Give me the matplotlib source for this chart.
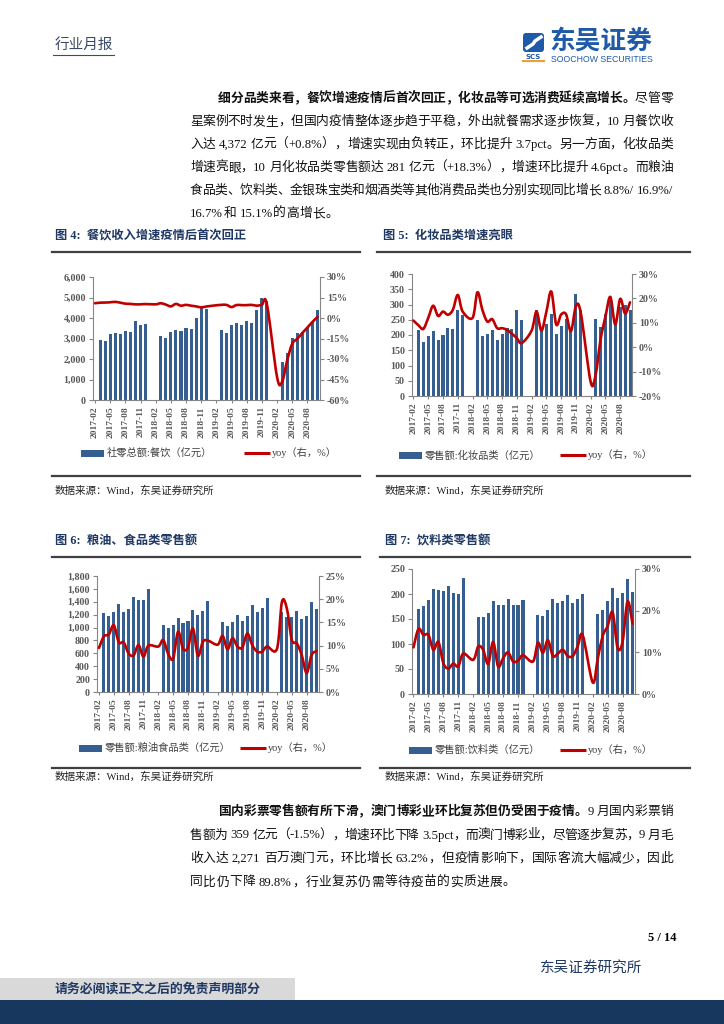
import matplotlib.pyplot as plt
import numpy as np
import pandas as pd
from matplotlib.patches import Rectangle, FancyBboxPatch, PathPatch
from matplotlib.path import Path

plt.rcParams['font.family'] = ['Liberation Serif', 'Noto Sans CJK SC']

# x axis: one slot per month, 2017-02 .. 2020-10 (Jan / Feb retail values not published)
months = pd.period_range('2017-02', '2020-10', freq='M').strftime('%Y-%m').tolist()
tick_idx = list(range(0, len(months), 3))
N = None

# 图4 餐饮 (亿元) and yoy (%)
food_bars = [N, 2950, 2900, 3220, 3260, 3230, 3370, 3340, 3860, 3680, 3700,
             N, N, 3100, 3040, 3330, 3400, 3360, 3510, 3460, 4020, 4560, 4430,
             N, N, 3400, 3290, 3640, 3740, 3660, 3870, 3780, 4390, 4960, 4830,
             N, N, 1840, 2310, 3030, 3270, 3300, 3510, 3800, 4372]
food_yoy = [10.8, 11.2, 11.3, 11.5, 11.8, 11.2, 10.5, 10.3, 10.0, 10.0, 10.2,
            N, 10.0, 10.8, 9.8, 8.5, 10.3, 9.0, 9.6, 9.0, 8.5, 7.8, 8.4,
            N, 9.3, 9.6, 9.6, 8.0, 9.5, 9.4, 9.4, 9.6, 9.0, 9.6, 10.0,
            N, -43.1, -46.8, -31.1, -18.9, -15.2, -11.0, -7.0, -2.9, 0.8]

# 图5 化妆品类
cos_bars = [N, 215, 178, 197, 214, 184, 200, 222, 220, 282, 266,
            N, N, 250, 196, 202, 218, 185, 204, 222, 219, 281, 249,
            N, N, 283, 224, 235, 268, 203, 231, 252, 218, 333, 282,
            N, N, 252, 226, 270, 310, 242, 293, 299, 281]
cos_yoy = [10.9, 9.0, 7.5, 12.0, 17.0, 12.8, 14.6, 13.3, 15.3, 21.4, 14.6,
           N, 12.0, 22.5, 15.3, 10.5, 11.5, 7.8, 7.8, 7.1, 5.5, 3.7, 1.7,
           N, 6.8, 14.6, 6.8, 14.5, 22.8, 9.3, 13.4, 13.5, 6.6, 16.8, 14.0,
           N, -14.2, -11.4, 3.0, 12.5, 20.6, 9.3, 19.8, 13.8, 18.4]

# 图6 粮油、食品类
grain_bars = [N, 1219, 1178, 1245, 1358, 1245, 1281, 1476, 1435, 1425, 1605,
              N, N, 1034, 993, 1039, 1152, 1065, 1101, 1270, 1193, 1255, 1409,
              N, N, 1080, 1024, 1090, 1193, 1106, 1178, 1348, 1235, 1307, 1466,
              N, N, 1240, 1160, 1160, 1250, 1130, 1180, 1400, 1290]
grain_yoy = [9.5, 12.0, 12.4, 14.4, 10.7, 10.7, 8.3, 7.9, 10.1, 7.6, 10.0,
             N, 9.8, 11.2, 8.2, 7.2, 13.0, 9.3, 9.6, 13.7, 7.8, 10.8, 11.1,
             N, 10.2, 12.1, 9.2, 11.6, 9.8, 9.6, 12.6, 10.1, 8.7, 8.7, 9.8,
             N, 9.3, 19.4, 18.0, 11.2, 10.5, 8.0, 4.1, 8.0, 8.8]

# 图7 饮料类
drink_bars = [N, 171, 176, 189, 211, 208, 206, 217, 203, 201, 233,
              N, N, 154, 154, 163, 187, 179, 178, 191, 178, 178, 188,
              N, N, 159, 156, 169, 190, 182, 186, 199, 182, 190, 200,
              N, N, 160, 168, 186, 212, 192, 202, 230, 204]
drink_yoy = [11.2, 15.6, 14.2, 14.2, 10.6, 12.5, 7.4, 6.1, 7.3, 6.6, 9.7,
             N, 8.2, 11.4, 10.6, 7.2, 12.5, 6.6, 8.6, 10.0, 7.8, 8.0, 9.3,
             N, 7.8, 12.3, 9.9, 12.9, 9.1, 9.7, 10.6, 9.1, 9.1, 11.5, 14.1,
             N, 2.8, 8.4, 13.9, 16.3, 19.6, 11.1, 12.5, 22.2, 16.9]

para1 = [
    [("细分品类来看，餐饮增速疫情后首次回正，化妆品等可选消费延续高增长。", True), ("尽管零", False)],
    [("星案例不时发生，但国内疫情整体逐步趋于平稳，外出就餐需求逐步恢复，10 月餐饮收", False)],
    [("入达 4,372 亿元（+0.8%），增速实现由负转正，环比提升 3.7pct。另一方面，化妆品类", False)],
    [("增速亮眼，10 月化妆品类零售额达 281 亿元（+18.3%），增速环比提升 4.6pct。而粮油", False)],
    [("食品类、饮料类、金银珠宝类和烟酒类等其他消费品类也分别实现同比增长 8.8%/ 16.9%/", False)],
    [("16.7%和 15.1%的高增长。", False)],
]
para2 = [
    [("国内彩票零售额有所下滑，澳门博彩业环比复苏但仍受困于疫情。", True), ("9 月国内彩票销", False)],
    [("售额为 359 亿元（-1.5%），增速环比下降 3.5pct，而澳门博彩业，尽管逐步复苏，9 月毛", False)],
    [("收入达 2,271 百万澳门元，环比增长 63.2%，但疫情影响下，国际客流大幅减少，因此", False)],
    [("同比仍下降 89.8%，行业复苏仍需等待疫苗的实质进展。", False)],
]

BAR = '#365F91'
RED = '#C00000'
GRAY = '#595959'
NAVY = '#1F3864'
W, H = 724, 1024

fig = plt.figure(figsize=(W / 100, H / 100), dpi=100)
page = fig.add_axes([0, 0, 1, 1], zorder=0)
page.set_xlim(0, W)
page.set_ylim(H, 0)
page.axis('off')
renderer = fig.canvas.get_renderer()


def arr(lst):
    return np.array([np.nan if v is None else v for v in lst], dtype=float)


def tokens(s):
    # split into CJK chars and ascii words; remember where a space stood
    out, buf, sp = [], '', False
    for ch in s:
        if ord(ch) < 128 and ch != ' ':
            buf += ch
            continue
        if buf:
            out.append((buf, sp))
            buf, sp = '', False
        if ch == ' ':
            sp = True
        else:
            out.append((ch, sp))
            sp = False
    if buf:
        out.append((buf, sp))
    return out


def text_line(segs, x0, x1, y, size=9.2, justify=True):
    toks = []
    for s, bold in segs:
        for tk, sp in tokens(s):
            t = page.text(0, y, tk, fontsize=size, va='center', ha='left',
                          fontweight='bold' if bold else 'normal', color='#111111')
            toks.append((t, t.get_window_extent(renderer).width, 3.2 if sp else 0))
    total = sum(w + s for _, w, s in toks)
    gap = (x1 - x0 - total) / (len(toks) - 1) if justify else 0.4
    x = x0
    for t, w, s in toks:
        x += s
        t.set_x(x)
        x += w + gap


def paragraph(lines, y0, dy):
    for i, segs in enumerate(lines):
        x0 = 218 if i == 0 else 190
        text_line(segs, x0, 673, y0 + i * dy, justify=(i < len(lines) - 1))


def smooth_path(x, y):
    # cubic Bezier through the points (Catmull-Rom tangents), like a smoothed Excel line
    p = np.column_stack([x, y])
    ext = np.vstack([p[0], p, p[-1]])
    verts, codes = [p[0]], [Path.MOVETO]
    for i in range(len(p) - 1):
        a, b, c, d = ext[i], ext[i + 1], ext[i + 2], ext[i + 3]
        verts += [b + (c - a) / 6, c - (d - b) / 6, c]
        codes += [Path.CURVE4] * 3
    return Path(verts, codes)


def draw_chart(box, bars, yoy, lmax, lstep, rmin, rmax, rstep, lfmt, xlim):
    l, t, r, b = box
    ax = fig.add_axes([l / W, 1 - b / H, (r - l) / W, (b - t) / H], zorder=2)
    ax.patch.set_visible(False)
    idx = np.arange(len(months))
    bv, yv = arr(bars), arr(yoy)
    m = ~np.isnan(bv)
    ax.bar(idx[m], bv[m], width=0.62, color=BAR, linewidth=0)
    ax.set_xlim(*xlim)
    ax.set_ylim(0, lmax)
    lt = np.arange(0, lmax + lstep / 2, lstep)
    ax.set_yticks(lt)
    ax.set_yticklabels([lfmt(v) for v in lt])
    ax.set_xticks(tick_idx)
    ax.set_xticklabels([months[i] for i in tick_idx], rotation=90, fontsize=6.8)
    ax2 = ax.twinx()
    m2 = ~np.isnan(yv)
    ax2.add_patch(PathPatch(smooth_path(idx[m2], yv[m2]), fill=False, edgecolor=RED,
                            lw=1.9, joinstyle='round', capstyle='round'))
    ax2.set_ylim(rmin, rmax)
    rt = np.arange(rmin, rmax + rstep / 2, rstep)
    ax2.set_yticks(rt)
    ax2.set_yticklabels([f'{v:.0f}%' for v in rt])
    for a in (ax, ax2):
        for s in a.spines.values():
            s.set_visible(False)
            s.set_color('#868686')
        a.tick_params(colors='#868686', labelcolor=GRAY, labelsize=7.2, length=3, width=0.8, pad=2)
    ax.tick_params(axis='x', labelsize=6.8, length=2.5)
    ax.spines['left'].set_visible(True)
    ax.spines['bottom'].set_visible(True)
    ax2.spines['right'].set_visible(True)
    for lab in ax.get_yticklabels() + ax2.get_yticklabels() + ax.get_xticklabels():
        lab.set_fontweight('bold')


def legend(y, px, label, lx):
    page.add_patch(Rectangle((px, y - 3.5), 23, 7, color=BAR, lw=0))
    page.text(px + 26, y, label, fontsize=7.4, va='center', color='#404040')
    page.plot([lx, lx + 26], [y, y], color=RED, lw=2.2, solid_capstyle='butt')
    page.text(lx + 28, y, 'yoy（右，%）', fontsize=7.4, va='center', color='#404040')


def caption(x, y, s, lx0, lx1):
    page.text(x, y, s, fontsize=8.8, fontweight='bold', color=NAVY, va='center')
    page.plot([lx0, lx1], [y + 16, y + 16], color='#404040', lw=1.6)


# header
page.text(55, 45, '行业月报', fontsize=10.5, color='#3C4A68', va='center')
page.plot([53, 114], [55, 55], color='#3C4A68', lw=0.8)
page.add_patch(FancyBboxPatch((523, 33), 21, 19, boxstyle='round,pad=0,rounding_size=3',
                              color='#1E5AA8', lw=0))
page.plot([527, 533, 535, 541], [48, 44, 41, 37], color='white', lw=2.5)
page.text(533.5, 57, 'SCS', fontsize=5, fontweight='bold', color='#1E5AA8', ha='center',
          va='center', family='DejaVu Sans')
page.plot([523, 544], [61, 61], color='#F0A030', lw=1.5)
page.text(549, 41, '东吴证券', fontsize=18.5, fontweight='bold', color='#1E5AA8', va='center')
page.text(551, 59.5, 'SOOCHOW SECURITIES', fontsize=6.3, color='#1E5AA8', va='center',
          family='Liberation Sans')

paragraph(para1, 99, 23)

caption(55, 236, '图 4:  餐饮收入增速疫情后首次回正', 52, 360)
caption(383, 236, '图 5:  化妆品类增速亮眼', 377, 690)

draw_chart((93, 277, 320, 400), food_bars, food_yoy, 6000, 1000, -60, 30, 15,
           lambda v: f'{v:,.0f}', (-0.4, 44.5))
draw_chart((412, 274, 632, 396), cos_bars, cos_yoy, 400, 50, -20, 30, 10,
           lambda v: f'{v:.0f}', (-0.3, 44.4))
legend(453, 81, '社零总额:餐饮（亿元）', 244)
legend(455, 399, '零售额:化妆品类（亿元）', 560)

for x0, x1 in ((52, 360), (377, 690)):
    page.plot([x0, x1], [476, 476], color='#404040', lw=1.6)
page.text(55, 491, '数据来源：Wind，东吴证券研究所', fontsize=7.6, va='center', color='#222222')
page.text(385, 491, '数据来源：Wind，东吴证券研究所', fontsize=7.6, va='center', color='#222222')

caption(55, 541, '图 6:  粮油、食品类零售额', 52, 360)
caption(385, 541, '图 7:  饮料类零售额', 380, 690)

draw_chart((97, 576, 319, 692), grain_bars, grain_yoy, 1800, 200, 0, 25, 5,
           lambda v: f'{v:,.0f}', (-0.4, 44.5))
draw_chart((412, 569, 635, 694), drink_bars, drink_yoy, 250, 50, 0, 30, 10,
           lambda v: f'{v:.0f}', (-0.3, 44.5))
legend(748, 79, '零售额:粮油食品类（亿元）', 240)
legend(750, 409, '零售额:饮料类（亿元）', 560)

for x0, x1 in ((52, 360), (380, 690)):
    page.plot([x0, x1], [768, 768], color='#404040', lw=1.6)
page.text(55, 777, '数据来源：Wind，东吴证券研究所', fontsize=7.6, va='center', color='#222222')
page.text(385, 777, '数据来源：Wind，东吴证券研究所', fontsize=7.6, va='center', color='#222222')

paragraph(para2, 812, 23.5)

# footer
page.text(677, 938, '5 / 14', fontsize=9, fontweight='bold', ha='right', va='center')
page.text(540, 968, '东吴证券研究所', fontsize=10.5, color=NAVY, va='center')
page.add_patch(Rectangle((0, 978), 295, 22, color='#D9D9D9', lw=0))
page.add_patch(Rectangle((0, 1000), W, 24, color='#17375E', lw=0))
page.text(55, 989, '请务必阅读正文之后的免责声明部分', fontsize=9.3, fontweight='bold',
          color=NAVY, va='center')

fig.savefig('out.png', dpi=100)
